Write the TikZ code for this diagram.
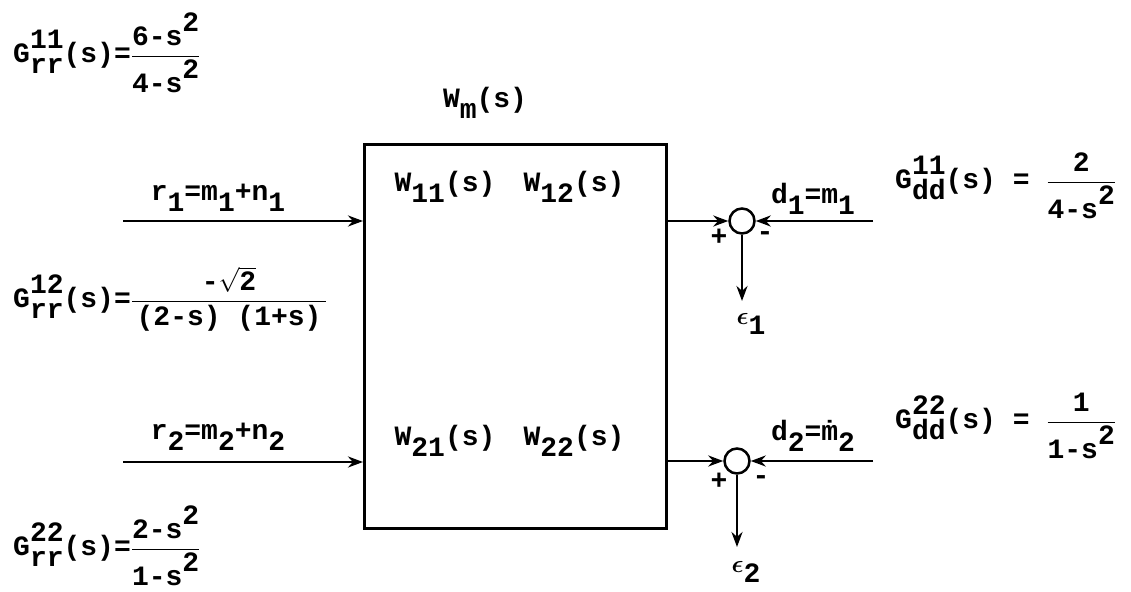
\documentclass[tikz,border=0pt]{standalone}
\usepackage{fontspec}
\usepackage{amsmath}
\setmainfont{Liberation Mono}
\usetikzlibrary{arrows.meta}
\newcommand\sbx[1]{\raisebox{-0.38em}{#1}}
\newcommand\spx[1]{\raisebox{0.5em}{#1}}
\newcommand\subsup[2]{\rlap{\raisebox{0.5em}{#1}}\raisebox{-0.38em}{#2}}
\newcommand\fr[2]{$\displaystyle\frac{\mbox{#1}}{\mbox{#2}}$}
\tikzset{
  lbl/.style={inner sep=0pt, font=\fontsize{28}{32}\selectfont\bfseries},
  arr/.style={line width=2.5pt, -{Stealth[length=15pt,width=11pt]}},
  sumj/.style={circle, draw, line width=2.5pt, minimum size=25pt, inner sep=0pt},
}
\begin{document}
\begin{tikzpicture}[x=1pt,y=-1pt]
\useasboundingbox (0,0) rectangle (1131,591);
% main block
\node[draw, line width=2.5pt, minimum width=302pt, minimum height=384pt, anchor=north west, inner sep=0pt] (box) at (363,143) {};
\node[lbl] (wm) at (485,103) {W\sbx{m}(s)};
\node[lbl] (w11) at (445,187) {W\sbx{11}(s)};
\node[lbl] (w12) at (574,187) {W\sbx{12}(s)};
\node[lbl] (w21) at (445,441) {W\sbx{21}(s)};
\node[lbl] (w22) at (574,441) {W\sbx{22}(s)};
% inputs
\coordinate (in1) at (123,221);
\coordinate (in2) at (123,462);
\draw[arr] (in1) -- (in1 -| box.west);
\draw[arr] (in2) -- (in2 -| box.west);
\node[lbl] (r1) at (218,198) {r\sbx{1}=m\sbx{1}+n\sbx{1}};
\node[lbl] (r2) at (218,437) {r\sbx{2}=m\sbx{2}+n\sbx{2}};
% summing junctions
\node[sumj] (s1) at (742,221) {};
\node[sumj] (s2) at (737,461) {};
\draw[arr] (box.east |- s1) -- (s1.west);
\draw[arr] (box.east |- s2) -- (s2.west);
\coordinate (d1) at (873,221);
\coordinate (d2) at (873,461);
\draw[arr] (d1) -- (s1.east);
\draw[arr] (d2) -- (s2.east);
\coordinate (e1) at (742,301);
\coordinate (e2) at (737,547);
\draw[arr] (s1.south) -- (e1);
\draw[arr] (s2.south) -- (e2);
\node[lbl] (eps1) at (751,324) {$\boldsymbol{\epsilon}$\sbx{1}};
\node[lbl] (eps2) at (746,572) {$\boldsymbol{\epsilon}$\sbx{2}};
\node[lbl] (p1) at (719,237) {+};
\node[lbl] (m1) at (765,236) {-};
\node[lbl] (p2) at (719,481) {+};
\node[lbl] (m2) at (761,480) {-};
\node[lbl] (dl1) at (813,199) {d\sbx{1}=m\sbx{1}};
\node[lbl] (dl2) at (813,436) {d\sbx{2}=\.{m}\sbx{2}};
% transfer functions
\node[lbl, anchor=west] (g11) at (13,53) {G\subsup{11}{rr}(s)=\fr{6-s\spx{2}}{4-s\spx{2}}};
\node[lbl, anchor=west] (g12) at (13,299) {G\subsup{12}{rr}(s)=\fr{-$\sqrt{\mbox{2}}$}{\,(2-s) (1+s)\,}};
\node[lbl, anchor=west] (g22) at (13,546) {G\subsup{22}{rr}(s)=\fr{2-s\spx{2}}{1-s\spx{2}}};
\node[lbl, anchor=west] (gd1) at (895,186) {G\subsup{11}{dd}(s) = \fr{2}{4-s\spx{2}}};
\node[lbl, anchor=west] (gd2) at (895,426) {G\subsup{22}{dd}(s) = \fr{1}{1-s\spx{2}}};
\end{tikzpicture}
\end{document}
